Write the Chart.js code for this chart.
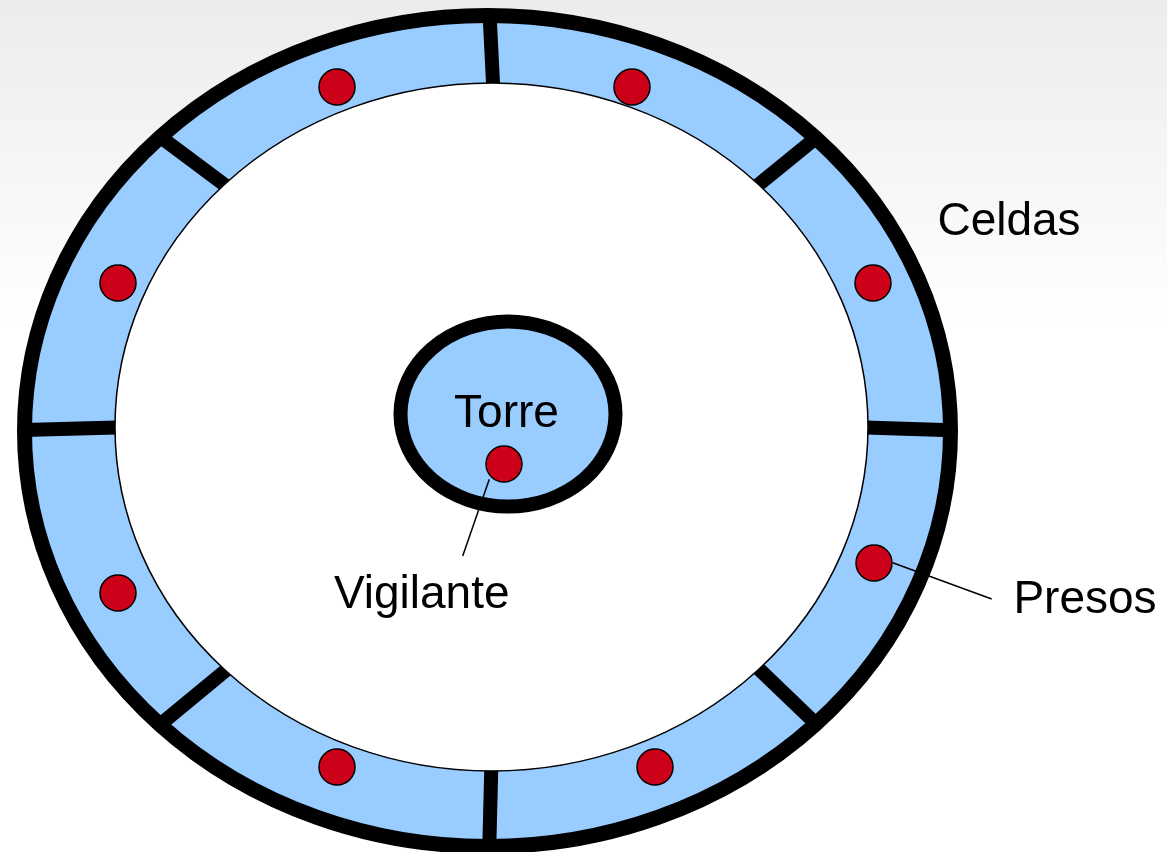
<!DOCTYPE html>
<html>
<head>
<meta charset="utf-8">
<script src="https://cdn.jsdelivr.net/npm/chart.js@4/dist/chart.umd.min.js"></script>
<style>
html,body{margin:0;padding:0;background:#fff;overflow:hidden;}
#wrap{width:1167px;height:852px;position:relative;}
</style>
</head>
<body>
<div id="wrap"><canvas id="c"></canvas></div>
<script>
// ---- Diagram data (diagram units = one unit per pixel of the reference) ----
// Prisoners (8 cells) + the guard in the tower (last)
const dotX = [337, 632, 118, 873, 118, 874, 337, 655, 504];
const dotY = [87, 87, 283, 283, 593, 563, 767, 767, 464];

// Cell walls: inner end -> outer end
const wallInnerX = [493.6, 491.5, 125, 858, 233, 748, 234, 752];
const wallInnerY = [95, 760, 427.2, 427.3, 191.1, 193.2, 663.7, 662.4];
const wallOuterX = [489.6, 489.3, 24, 951, 158, 818, 156, 818];
const wallOuterY = [15, 846, 430, 430.2, 135.2, 136.3, 728, 725.8];

// Leader lines (Vigilante, Presos)
const leaderFromX = [489.3, 892.7];
const leaderFromY = [479.3, 562.7];
const leaderToX = [462.7, 991.7];
const leaderToY = [556, 599];

// Text labels
const labelText = ['Celdas', 'Torre', 'Vigilante', 'Presos'];
const labelX = [1009, 506.5, 421.7, 1085];
const labelY = [235, 426.7, 608.3, 613.3];

// ---- Shape geometry and styles ----
const ringOuter = {cx: 487.5, cy: 431, rx: 463, ry: 415.5, width: 15};
const ringInner = {cx: 491.5, cy: 427, rx: 376.5, ry: 344, width: 1.5};
const towerShape = {cx: 508, cy: 414, rx: 107.5, ry: 92.5, width: 14};
const CELL_BLUE = '#99ccff';
const DOT_RED = '#cc0019';

function ellipsePath(ctx, chart, e) {
  const xs = chart.scales.x, ys = chart.scales.y;
  const px = xs.getPixelForValue(e.cx), py = ys.getPixelForValue(e.cy);
  const rx = Math.abs(xs.getPixelForValue(e.cx + e.rx) - px);
  const ry = Math.abs(ys.getPixelForValue(e.cy + e.ry) - py);
  ctx.beginPath();
  ctx.ellipse(px, py, rx, ry, 0, 0, Math.PI * 2);
}

const panopticon = {
  id: 'panopticon',
  beforeDraw(chart) {
    const ctx = chart.ctx;
    const g = ctx.createLinearGradient(0, 0, 0, chart.height);
    g.addColorStop(0, '#ececec');
    g.addColorStop(0.38, '#ffffff');
    g.addColorStop(1, '#ffffff');
    ctx.save();
    ctx.fillStyle = g;
    ctx.fillRect(0, 0, chart.width, chart.height);
    ctx.restore();
  },
  beforeDatasetsDraw(chart) {
    const ctx = chart.ctx;
    ctx.save();
    ellipsePath(ctx, chart, ringOuter);
    ctx.fillStyle = CELL_BLUE;
    ctx.fill();
    ctx.restore();
  },
  afterDatasetDraw(chart, args) {
    if (args.index !== 0) return; // last cell wall drawn
    const ctx = chart.ctx;
    ctx.save();
    // courtyard
    ellipsePath(ctx, chart, ringInner);
    ctx.fillStyle = '#ffffff';
    ctx.fill();
    ctx.lineWidth = ringInner.width;
    ctx.strokeStyle = '#000';
    ctx.stroke();
    // outer wall
    ellipsePath(ctx, chart, ringOuter);
    ctx.lineWidth = ringOuter.width;
    ctx.stroke();
    // tower
    ellipsePath(ctx, chart, towerShape);
    ctx.fillStyle = CELL_BLUE;
    ctx.fill();
    ctx.lineWidth = towerShape.width;
    ctx.stroke();
    ctx.restore();
  },
  afterDatasetsDraw(chart) {
    const ctx = chart.ctx;
    const xs = chart.scales.x, ys = chart.scales.y;
    ctx.save();
    ctx.fillStyle = '#000';
    ctx.font = '46px "Liberation Sans", Arial, sans-serif';
    ctx.textAlign = 'center';
    ctx.textBaseline = 'alphabetic';
    labelText.forEach((t, i) => {
      ctx.fillText(t, xs.getPixelForValue(labelX[i]), ys.getPixelForValue(labelY[i]));
    });
    ctx.restore();
  }
};

const datasets = [];
for (let i = 0; i < wallInnerX.length; i++) {
  datasets.push({
    label: 'wall' + i,
    data: [{x: wallInnerX[i], y: wallInnerY[i]}, {x: wallOuterX[i], y: wallOuterY[i]}],
    showLine: true, borderColor: '#000', borderWidth: 14, borderCapStyle: 'butt',
    pointRadius: 0, order: 3, clip: false
  });
}
for (let i = 0; i < leaderFromX.length; i++) {
  datasets.push({
    label: 'leader' + i,
    data: [{x: leaderFromX[i], y: leaderFromY[i]}, {x: leaderToX[i], y: leaderToY[i]}],
    showLine: true, borderColor: '#000', borderWidth: 1.5,
    pointRadius: 0, order: 2, clip: false
  });
}
datasets.push({
  label: 'people',
  data: dotX.map((x, i) => ({x: x, y: dotY[i]})),
  showLine: false, pointRadius: 18, pointBackgroundColor: DOT_RED,
  pointBorderColor: '#000', pointBorderWidth: 1.5, order: 1, clip: false
});

new Chart(document.getElementById('c'), {
  type: 'scatter',
  data: {datasets: datasets},
  options: {
    responsive: true,
    maintainAspectRatio: false,
    animation: false,
    events: [],
    layout: {padding: 0, autoPadding: false},
    plugins: {legend: {display: false}, tooltip: {enabled: false}},
    scales: {
      x: {type: 'linear', min: 0, max: 1167, display: false},
      y: {type: 'linear', min: 0, max: 852, reverse: true, display: false}
    }
  },
  plugins: [panopticon]
});
</script>
</body>
</html>
